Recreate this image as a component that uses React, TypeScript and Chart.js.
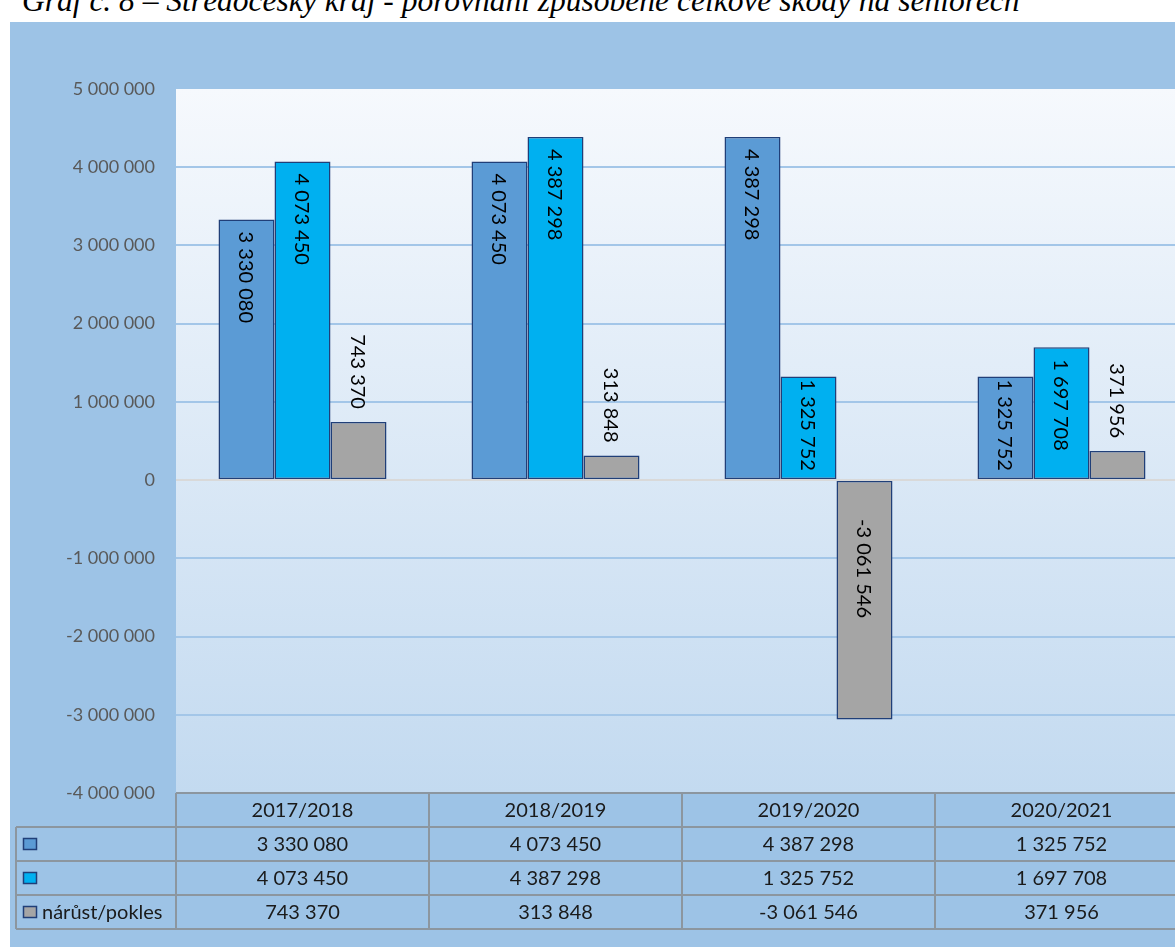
import React, { useEffect, useRef } from "react";
import { Chart, registerables } from "chart.js";

Chart.register(...registerables);

const categories = ["2017/2018", "2018/2019", "2019/2020", "2020/2021"];
const seriesA = [3330080, 4073450, 4387298, 1325752];
const seriesB = [4073450, 4387298, 1325752, 1697708];
const seriesChange = [743370, 313848, -3061546, 371956];
const seriesNames = ["", "", "nárůst/pokles"];
const seriesColors = ["#5B9BD5", "#00B0F0", "#A5A5A5"];
const yMin = -4000000;
const yMax = 5000000;
const yStep = 1000000;
const titleText = "Graf č. 8 – Středočeský kraj - porovnání způsobené celkové škody na seniorech";

const BORDER = "#203F78";
const FONT = "Lato, 'Noto Sans', sans-serif";

function fmt(n: number): string {
  const s = Math.abs(Math.round(n)).toString().replace(/\B(?=(\d{3})+(?!\d))/g, " ");
  return (n < 0 ? "-" : "") + s;
}

const backgroundPlugin = {
  id: "bgPlot",
  beforeDraw(chart: any) {
    const { ctx, width, height, chartArea } = chart;
    const { left, top, right, bottom } = chartArea;
    ctx.save();
    ctx.fillStyle = "#9DC3E6";
    ctx.fillRect(0, 0, width, height);
    const g = ctx.createLinearGradient(0, top, 0, bottom);
    g.addColorStop(0, "#F6F9FD");
    g.addColorStop(1, "#C3DAF0");
    ctx.fillStyle = g;
    ctx.fillRect(left, top, right - left, bottom - top);
    ctx.restore();
  },
};

const labelPlugin = {
  id: "barLabels",
  afterDatasetsDraw(chart: any) {
    const { ctx } = chart;
    ctx.save();
    ctx.font = `20px ${FONT}`;
    ctx.fillStyle = "#000000";
    chart.data.datasets.forEach((ds: any, di: number) => {
      const meta = chart.getDatasetMeta(di);
      meta.data.forEach((el: any, i: number) => {
        const v = ds.data[i];
        const txt = fmt(v);
        const w = ctx.measureText(txt).width;
        let start: number;
        if (v >= 0) {
          const len = el.base - el.y;
          if (len >= w + 24) start = el.y + 12;
          else if (len >= w + 6) start = el.y + 3;
          else start = el.y - 13 - w;
        } else {
          start = el.base + 38;
        }
        ctx.save();
        ctx.translate(el.x, start);
        ctx.rotate(Math.PI / 2);
        ctx.textAlign = "left";
        ctx.textBaseline = "middle";
        ctx.fillText(txt, 0, 1);
        ctx.restore();
      });
    });
    ctx.restore();
  },
};

const tablePlugin = {
  id: "dataTable",
  afterDraw(chart: any) {
    const { ctx, chartArea } = chart;
    const { left, right, bottom } = chartArea;
    const rowH = 34;
    const rows = 4;
    const tableLeft = 6;
    const n = categories.length;
    const colW = (right - left) / n;
    const allSeries = [seriesA, seriesB, seriesChange];
    ctx.save();
    ctx.strokeStyle = "#8C969F";
    ctx.lineWidth = 2;
    ctx.beginPath();
    ctx.moveTo(left, bottom);
    ctx.lineTo(right, bottom);
    for (let r = 1; r <= rows; r++) {
      ctx.moveTo(tableLeft, bottom + r * rowH);
      ctx.lineTo(right, bottom + r * rowH);
    }
    ctx.moveTo(tableLeft, bottom + rowH);
    ctx.lineTo(tableLeft, bottom + rows * rowH);
    for (let c = 0; c <= n; c++) {
      const x = left + c * colW;
      ctx.moveTo(x, bottom);
      ctx.lineTo(x, bottom + rows * rowH);
    }
    ctx.stroke();

    ctx.font = `20px ${FONT}`;
    ctx.fillStyle = "#1A1A1A";
    ctx.textAlign = "center";
    ctx.textBaseline = "middle";
    const xs = chart.scales.x;
    categories.forEach((cat, i) => {
      const cx = xs.getPixelForValue(i);
      ctx.fillText(cat, cx, bottom + rowH / 2 + 1);
      allSeries.forEach((s, si) => {
        ctx.fillText(fmt(s[i]), cx, bottom + (si + 1) * rowH + rowH / 2 + 1);
      });
    });

    seriesNames.forEach((name, si) => {
      const cy = bottom + (si + 1) * rowH + rowH / 2;
      ctx.fillStyle = seriesColors[si];
      ctx.fillRect(13, cy - 6, 14, 12);
      ctx.strokeStyle = BORDER;
      ctx.lineWidth = 1.5;
      ctx.strokeRect(13.5, cy - 5.5, 13, 11);
      ctx.fillStyle = "#1A1A1A";
      ctx.textAlign = "left";
      ctx.fillText(name, 32, cy + 1);
    });
    ctx.restore();
  },
};

export default function App() {
  const canvasRef = useRef<HTMLCanvasElement | null>(null);

  useEffect(() => {
    if (!canvasRef.current) return;
    const chart = new Chart(canvasRef.current, {
      type: "bar",
      data: {
        labels: categories,
        datasets: [seriesA, seriesB, seriesChange].map((d, i) => ({
          label: seriesNames[i],
          data: d,
          backgroundColor: seriesColors[i],
          borderColor: BORDER,
          borderWidth: 1.5,
          borderSkipped: false,
          categoryPercentage: 0.664,
          barPercentage: 1.0,
        })),
      },
      options: {
        animation: false,
        responsive: true,
        maintainAspectRatio: false,
        layout: { padding: { left: 0, top: 67, right: 2, bottom: 154 } },
        plugins: {
          legend: { display: false },
          title: { display: false },
          tooltip: { enabled: false },
        },
        scales: {
          x: { display: false },
          y: {
            min: yMin,
            max: yMax,
            border: { display: false },
            afterFit: (s: any) => {
              s.width = 166;
            },
            grid: {
              drawTicks: false,
              lineWidth: 2,
              color: (c: any) => {
                const v = c.tick ? c.tick.value : null;
                if (v === yMax || v === yMin) return "rgba(0,0,0,0)";
                if (v === 0) return "#D9D9D9";
                return "#A3C6E8";
              },
            },
            ticks: {
              stepSize: yStep,
              padding: 21,
              color: "#595959",
              font: { family: FONT, size: 18 },
              callback: (v: any) => fmt(Number(v)),
            },
          },
        },
      },
      plugins: [backgroundPlugin, labelPlugin, tablePlugin],
    });
    return () => chart.destroy();
  }, []);

  return (
    <div
      style={{
        position: "fixed",
        left: 0,
        top: 0,
        width: 1175,
        height: 947,
        overflow: "hidden",
        background: "#ffffff",
      }}
    >
      <div
        style={{
          position: "absolute",
          left: 22,
          top: -15,
          whiteSpace: "nowrap",
          fontFamily: "'Liberation Serif', 'Times New Roman', serif",
          fontStyle: "italic",
          fontSize: 31.5,
          lineHeight: "32px",
          color: "#000",
        }}
      >
        {titleText}
      </div>
      <div
        style={{
          position: "absolute",
          left: 10,
          top: 22,
          width: 1180,
          height: 925,
        }}
      >
        <canvas ref={canvasRef} />
      </div>
    </div>
  );
}
